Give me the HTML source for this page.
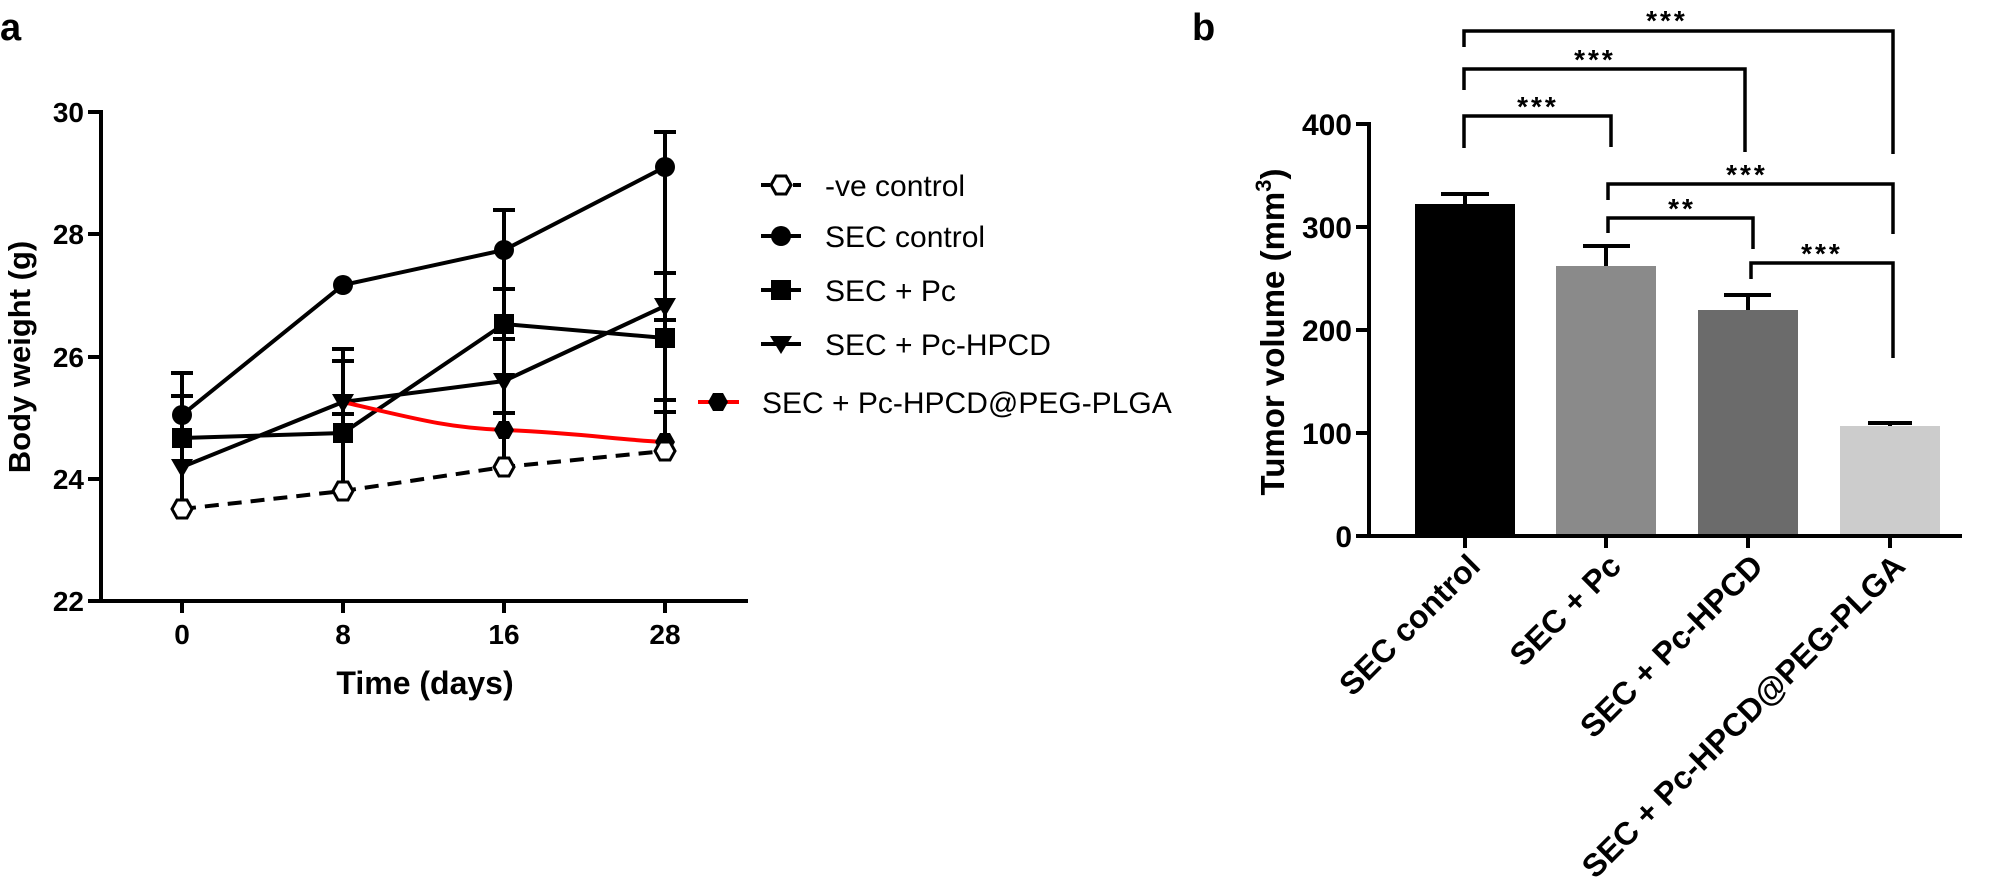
<!DOCTYPE html>
<html><head><meta charset="utf-8"><style>
html,body{margin:0;padding:0;background:#fff;}
svg{display:block;font-family:"Liberation Sans",Arial,sans-serif;}
</style></head><body>
<svg width="1990" height="878" viewBox="0 0 1990 878" xmlns="http://www.w3.org/2000/svg">
<defs>
<polygon id="hex" points="-10,0 -5,-9 5,-9 10,0 5,9 -5,9"/>
</defs>
<!-- Panel a -->
<text x="0" y="40" font-size="38" font-weight="bold">a</text>
<g stroke="#000" stroke-width="4" fill="none">
<line x1="101" y1="110" x2="101" y2="603"/>
<line x1="99" y1="601" x2="748" y2="601"/>
<line x1="88" y1="112" x2="101" y2="112"/><line x1="88" y1="234" x2="101" y2="234"/><line x1="88" y1="357" x2="101" y2="357"/><line x1="88" y1="479" x2="101" y2="479"/><line x1="88" y1="601" x2="101" y2="601"/>
<line x1="182" y1="601" x2="182" y2="613"/><line x1="343" y1="601" x2="343" y2="613"/><line x1="504" y1="601" x2="504" y2="613"/><line x1="665" y1="601" x2="665" y2="613"/>
</g>
<g font-size="28" font-weight="bold" text-anchor="end">
<text x="84" y="122">30</text><text x="84" y="244">28</text><text x="84" y="367">26</text><text x="84" y="489">24</text><text x="84" y="611">22</text>
</g>
<g font-size="28" font-weight="bold" text-anchor="middle">
<text x="182" y="644">0</text><text x="343" y="644">8</text><text x="504" y="644">16</text><text x="665" y="644">28</text>
</g>
<text x="425" y="694" font-size="32" font-weight="bold" text-anchor="middle">Time (days)</text>
<text transform="translate(30,357) rotate(-90)" font-size="31" font-weight="bold" text-anchor="middle">Body weight (g)</text>
<!-- error bars -->
<g stroke="#000" stroke-width="4">
<line x1="182" y1="509" x2="182" y2="373"/><line x1="171" y1="373" x2="193" y2="373"/><line x1="171" y1="396" x2="193" y2="396"/>
<line x1="343" y1="491" x2="343" y2="349"/><line x1="332" y1="349" x2="354" y2="349"/><line x1="332" y1="361" x2="354" y2="361"/><line x1="332" y1="414" x2="354" y2="414"/>
<line x1="504" y1="466" x2="504" y2="210"/><line x1="493" y1="210" x2="515" y2="210"/><line x1="493" y1="289" x2="515" y2="289"/><line x1="493" y1="339" x2="515" y2="339"/><line x1="493" y1="413" x2="515" y2="413"/>
<line x1="665" y1="451" x2="665" y2="132"/><line x1="654" y1="132" x2="676" y2="132"/><line x1="654" y1="273" x2="676" y2="273"/><line x1="654" y1="320" x2="676" y2="320"/><line x1="654" y1="400" x2="676" y2="400"/><line x1="654" y1="412" x2="676" y2="412"/>
</g>
<!-- series -->
<g fill="none" stroke-width="4">
<polyline stroke="#000" stroke-dasharray="14,9" points="182,509 343,491 504,467 665,451"/>
<polyline stroke="#000" points="182,415 343,285 504,250 665,167"/>
<polyline stroke="#000" points="182,438 343,433 504,324 665,338"/>
<polyline stroke="#000" points="182,467 343,402 504,381 665,306"/>
<path stroke="#f00" d="M343,402 C420,420 450,428 504,430 C580,433 620,440 665,442"/>
</g>
<!-- markers -->
<g fill="#000">
<use href="#hex" x="504" y="430"/><use href="#hex" x="665" y="442"/>
<circle cx="182" cy="415" r="10"/><circle cx="343" cy="285" r="10"/><circle cx="504" cy="250" r="10"/><circle cx="665" cy="167" r="10"/>
<rect x="172" y="428" width="20" height="20"/><rect x="333" y="423" width="20" height="20"/><rect x="494" y="314" width="20" height="20"/><rect x="655" y="328" width="20" height="20"/>
<polygon points="171,459 193,459 182,478"/><polygon points="332,394 354,394 343,413"/><polygon points="493,373 515,373 504,392"/><polygon points="654,298 676,298 665,317"/>
</g>
<g fill="#fff" stroke="#000" stroke-width="3">
<use href="#hex" x="182" y="509"/><use href="#hex" x="343" y="491"/><use href="#hex" x="504" y="467"/><use href="#hex" x="665" y="451"/>
</g>
<!-- legend -->
<g stroke-width="4">
<line x1="761" y1="185" x2="801" y2="185" stroke="#000" stroke-dasharray="9,7"/>
<line x1="761" y1="236" x2="801" y2="236" stroke="#000"/>
<line x1="761" y1="290" x2="801" y2="290" stroke="#000"/>
<line x1="761" y1="344" x2="801" y2="344" stroke="#000"/>
<line x1="698" y1="402" x2="739" y2="402" stroke="#f00"/>
</g>
<use href="#hex" x="781" y="185" fill="#fff" stroke="#000" stroke-width="3"/>
<circle cx="781" cy="236" r="10"/>
<rect x="771" y="280" width="20" height="20"/>
<polygon points="770,336 792,336 781,354"/>
<use href="#hex" x="718" y="402" fill="#000"/>
<g font-size="30">
<text x="825" y="196">-ve control</text>
<text x="825" y="247">SEC control</text>
<text x="825" y="301">SEC + Pc</text>
<text x="825" y="355">SEC + Pc-HPCD</text>
<text x="762" y="413">SEC + Pc-HPCD@PEG-PLGA</text>
</g>
<!-- Panel b -->
<text x="1192" y="40" font-size="38" font-weight="bold">b</text>
<rect x="1415" y="204" width="100" height="332" fill="#000"/>
<rect x="1556" y="266" width="100" height="270" fill="#8a8a8a"/>
<rect x="1698" y="310" width="100" height="226" fill="#6b6b6b"/>
<rect x="1840" y="426" width="100" height="110" fill="#cccccc"/>
<g stroke="#000" stroke-width="4" fill="none">
<line x1="1465" y1="204" x2="1465" y2="194"/><line x1="1441" y1="194" x2="1489" y2="194"/>
<line x1="1606" y1="266" x2="1606" y2="246"/><line x1="1583" y1="246" x2="1630" y2="246"/>
<line x1="1748" y1="310" x2="1748" y2="295"/><line x1="1724" y1="295" x2="1771" y2="295"/>
<line x1="1890" y1="426" x2="1890" y2="423"/><line x1="1868" y1="423" x2="1912" y2="423"/>
<line x1="1369" y1="122" x2="1369" y2="538"/>
<line x1="1367" y1="536" x2="1962" y2="536"/>
<line x1="1356" y1="124" x2="1369" y2="124"/><line x1="1356" y1="227" x2="1369" y2="227"/><line x1="1356" y1="330" x2="1369" y2="330"/><line x1="1356" y1="433" x2="1369" y2="433"/><line x1="1356" y1="536" x2="1369" y2="536"/>
<line x1="1465" y1="536" x2="1465" y2="548"/><line x1="1606" y1="536" x2="1606" y2="548"/><line x1="1748" y1="536" x2="1748" y2="548"/><line x1="1890" y1="536" x2="1890" y2="548"/>
</g>
<g stroke="#000" stroke-width="3.5" fill="none">
<polyline points="1464,47 1464,31 1893,31 1893,154"/>
<polyline points="1464,90 1464,69 1745,69 1745,152"/>
<polyline points="1464,148 1464,116 1611,116 1611,147"/>
<polyline points="1608,200 1608,184 1893,184 1893,234"/>
<polyline points="1608,233 1608,218 1753,218 1753,249"/>
<polyline points="1751,279 1751,263 1893,263 1893,358"/>
</g>
<g font-size="28" text-anchor="middle" letter-spacing="3" font-weight="bold">
<text x="1667" y="30">***</text>
<text x="1595" y="69">***</text>
<text x="1538" y="116">***</text>
<text x="1747" y="184">***</text>
<text x="1682" y="218">**</text>
<text x="1822" y="263">***</text>
</g>
<g font-size="30" font-weight="bold" text-anchor="end">
<text x="1352" y="135">400</text><text x="1352" y="238">300</text><text x="1352" y="341">200</text><text x="1352" y="444">100</text><text x="1352" y="547">0</text>
</g>
<text transform="translate(1284,332) rotate(-90)" font-size="33" font-weight="bold" text-anchor="middle">Tumor volume (mm<tspan font-size="22" dy="-13">3</tspan><tspan dy="13">)</tspan></text>
<g font-size="32" font-weight="bold" text-anchor="end">
<text transform="translate(1482,568) rotate(-45)">SEC control</text>
<text transform="translate(1623,568) rotate(-45)">SEC + Pc</text>
<text transform="translate(1765,568) rotate(-45)">SEC + Pc-HPCD</text>
<text transform="translate(1907,568) rotate(-45)">SEC + Pc-HPCD@PEG-PLGA</text>
</g>
</svg>
</body></html>
